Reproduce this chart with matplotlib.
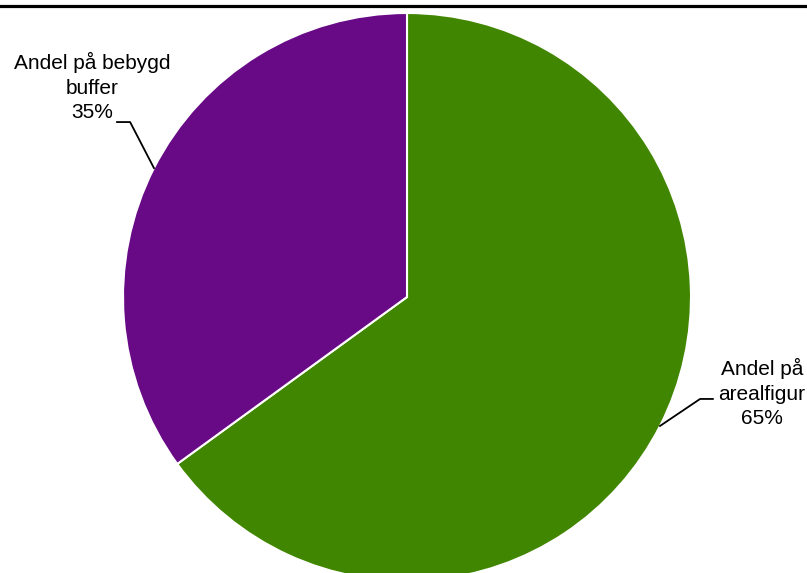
import numpy as np
import matplotlib
matplotlib.use("Agg")
import matplotlib.pyplot as plt
from matplotlib.lines import Line2D

plt.rcParams['font.family'] = ['Liberation Sans', 'DejaVu Sans']

# data
labels = ["Andel på\narealfigur", "Andel på bebygd\nbuffer"]
shares = [65, 35]
colors = ["#408600", "#680a86"]

fig = plt.figure(figsize=(8.07, 5.73), dpi=100)
# pie area in pixels: x 123..691, y 13..581 (from top)
ax = fig.add_axes([123 / 807, -8 / 573, 568 / 807, 568 / 573])

wedges, _ = ax.pie(shares, colors=colors, startangle=90, counterclock=False,
                   radius=1, wedgeprops=dict(edgecolor="white", linewidth=1.5))
ax.set_xlim(-1, 1)
ax.set_ylim(-1, 1)
ax.set_aspect("equal")
ax.axis("off")

# labels with elbow leader lines
label_pos = [((1.032, -0.359), (1.077, -0.359), (1.250, -0.338)),
             ((-0.975, 0.616), (-1.021, 0.616), (-1.109, 0.739))]
for w, lab, val, (elbow, end, txt) in zip(wedges, labels, shares, label_pos):
    ang = np.deg2rad((w.theta1 + w.theta2) / 2)
    sx, sy = np.cos(ang), np.sin(ang)
    ax.add_line(Line2D([sx, elbow[0], end[0]], [sy, elbow[1], end[1]],
                       color="black", linewidth=1.3, clip_on=False))
    ax.text(txt[0], txt[1], f"{lab}\n{val}%", ha="center", va="center",
            fontsize=15, linespacing=1.35, clip_on=False)

# top border line
fig.add_artist(Line2D([0, 1], [1 - 6 / 573, 1 - 6 / 573], color="black",
                      linewidth=2.3, transform=fig.transFigure))

fig.savefig("out.png", dpi=100)
